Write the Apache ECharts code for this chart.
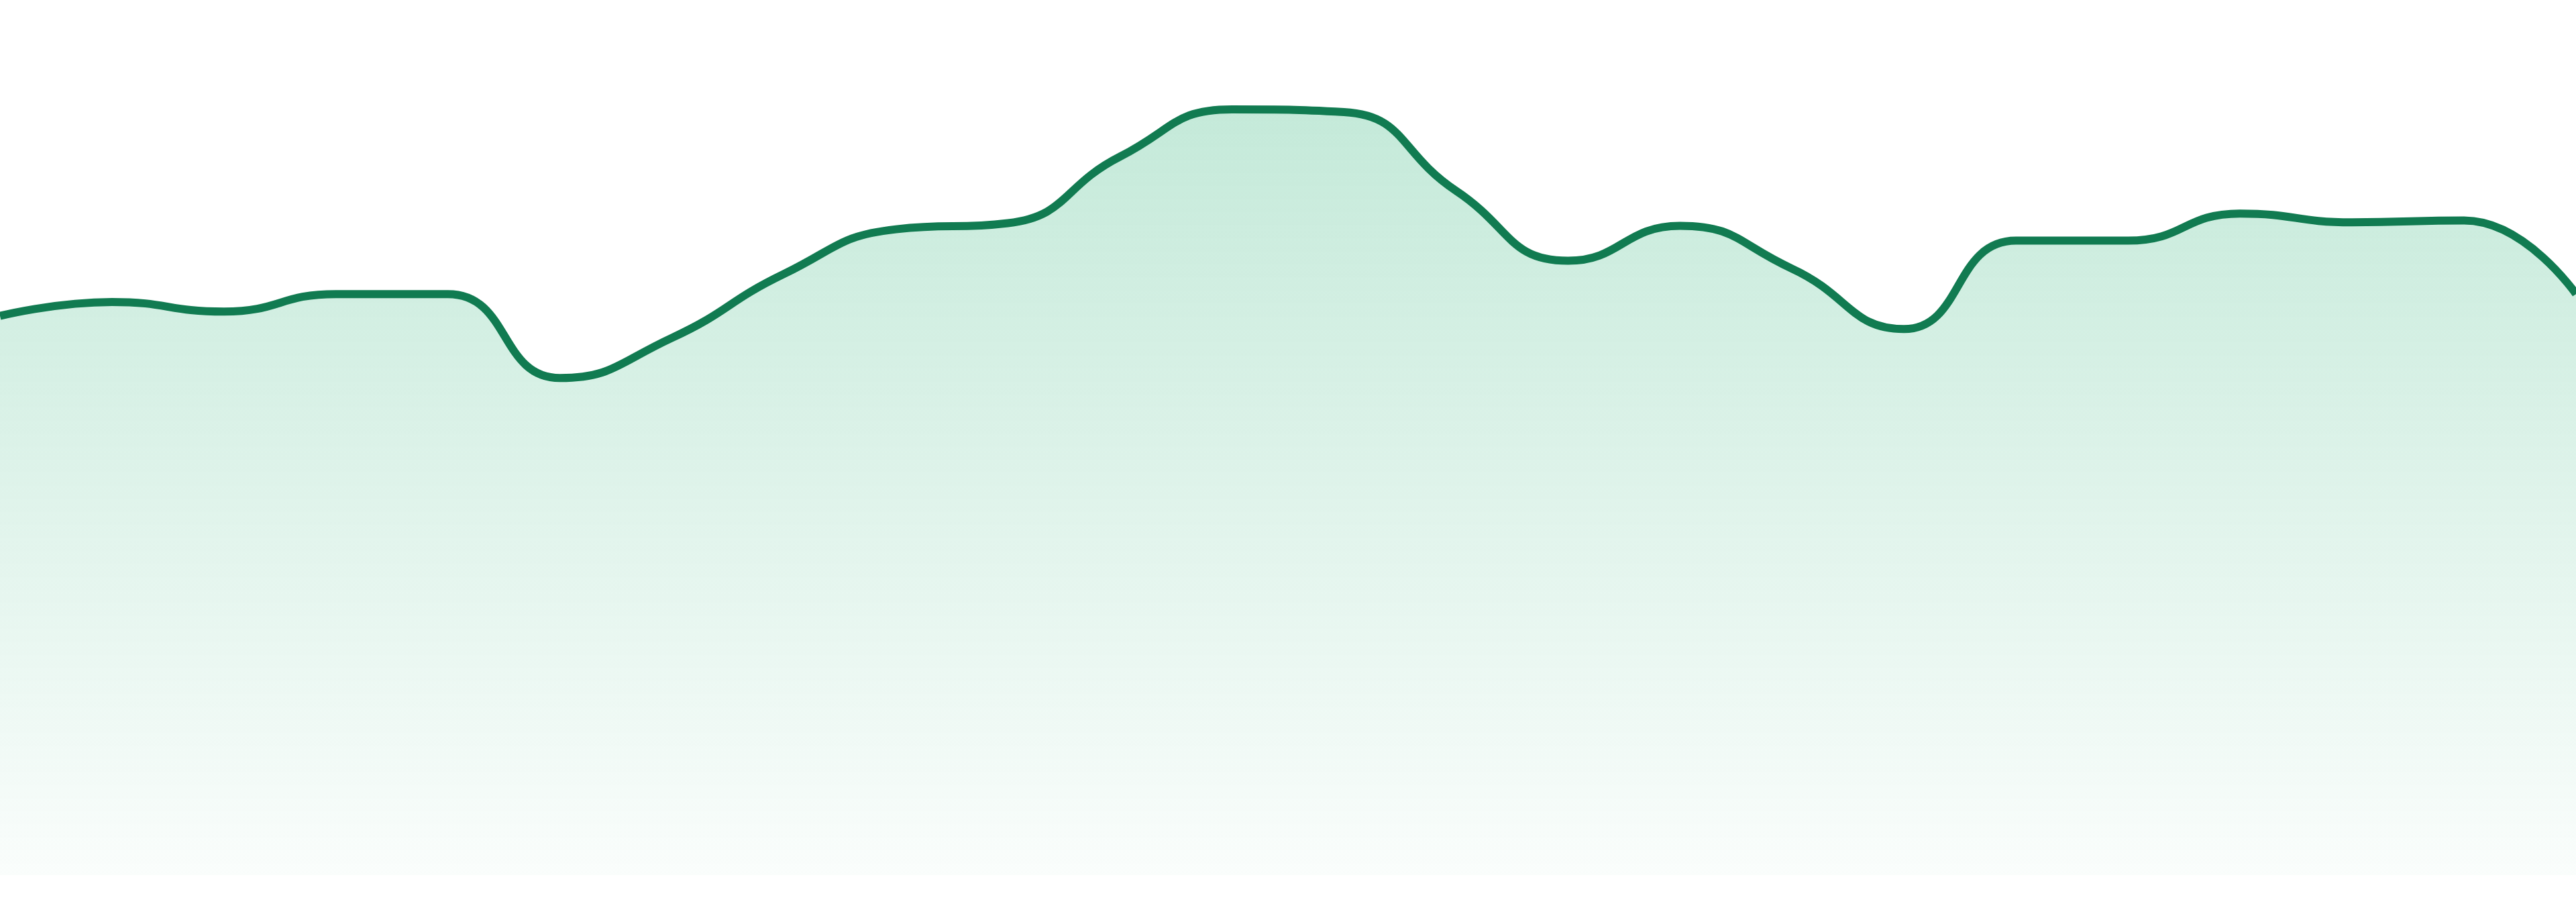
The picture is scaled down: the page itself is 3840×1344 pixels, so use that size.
<!DOCTYPE html>
<html>
<head>
<meta charset="utf-8">
<style>
  html, body { margin: 0; padding: 0; background: #fff; }
  #chart { width: 3840px; height: 1344px; }
</style>
<script src="https://cdn.jsdelivr.net/npm/echarts@6/dist/echarts.min.js"></script>
</head>
<body>
<div id="chart"></div>
<script>
// 横轴：24 个时间点（图中不显示）
const hours = [
  "00:00", "01:00", "02:00", "03:00", "04:00", "05:00", "06:00", "07:00",
  "08:00", "09:00", "10:00", "11:00", "12:00", "13:00", "14:00", "15:00",
  "16:00", "17:00", "18:00", "19:00", "20:00", "21:00", "22:00", "23:00"
];

// 数值
const values = [
  63.9, 65.5, 64.4, 66.4, 66.4, 56.8, 61.4, 68.7,
  73.8, 74.5, 82.1, 87.5, 87.2, 78.2, 70.2, 74.2,
  69.3, 62.4, 72.5, 72.5, 75.6, 74.6, 74.8, 66.4
];

const yMin = 0;
const yMax = 100;

const chart = echarts.init(document.getElementById("chart"));

chart.setOption({
  animation: false,
  grid: { left: 0, right: 0, top: 0, bottom: 40 },
  xAxis: {
    type: "category",
    data: hours,
    boundaryGap: false,
    show: false
  },
  yAxis: {
    type: "value",
    min: yMin,
    max: yMax,
    show: false
  },
  series: [
    {
      type: "line",
      data: values,
      smooth: true,
      symbol: "none",
      lineStyle: { color: "#117b51", width: 12 },
      areaStyle: {
        // 渐变填充：上深下浅
        color: new echarts.graphic.LinearGradient(0, 0, 0, 1, [
          { offset: 0, color: "rgba(22,170,105,0.36)" },
          { offset: 1, color: "rgba(22,170,105,0.03)" }
        ])
      }
    }
  ]
});
</script>
</body>
</html>
